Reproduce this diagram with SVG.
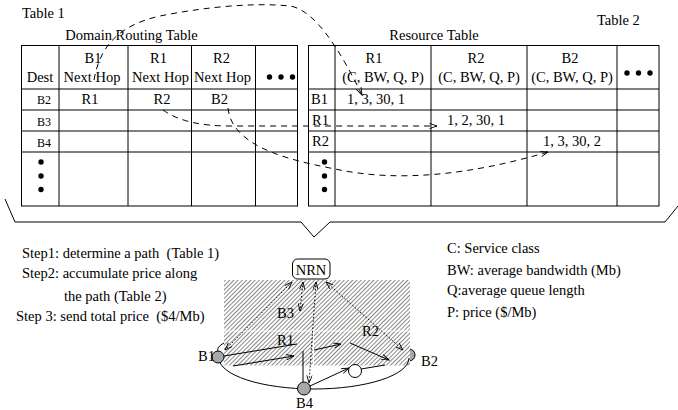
<svg xmlns="http://www.w3.org/2000/svg" width="678" height="410" viewBox="0 0 678 410">
<style>
text{font-family:"Liberation Serif","Times New Roman",serif;font-size:14.5px;fill:#000}
.sm{font-size:12px}
.mid{text-anchor:middle}
.grid{fill:none;stroke:#000;stroke-width:1}
.dash{fill:none;stroke:#000;stroke-width:1;stroke-dasharray:6 5}
.dot{fill:none;stroke:#000;stroke-width:1;stroke-dasharray:1.5 2}
.solid{fill:none;stroke:#000;stroke-width:1}
.node{fill:#a8a8a8;stroke:#000;stroke-width:1}
</style>
<defs>
<marker id="ah" viewBox="0 0 10 8" refX="10" refY="4" markerWidth="9" markerHeight="6" orient="auto-start-reverse" markerUnits="userSpaceOnUse">
<path d="M0,0.5 L10,4 L0,7.5" fill="none" stroke="#000" stroke-width="1.2"/>
</marker>
<pattern id="hatch" patternUnits="userSpaceOnUse" width="3" height="10" patternTransform="rotate(45)">
<line x1="0.5" y1="0" x2="0.5" y2="10" stroke="#7a7a7a" stroke-width="0.9"/>
</pattern>
</defs>
<rect width="678" height="410" fill="#fff"/>

<g id="titles">
<text x="22" y="18">Table 1</text>
<text x="597" y="25">Table 2</text>
<text x="131.5" y="40" class="mid">Domain Routing Table</text>
<text x="434" y="40" class="mid">Resource Table</text>
</g>

<g id="table1">
<rect class="grid" x="21.5" y="45.5" width="276" height="160.5"/>
<path class="grid" d="M59 45.5V206M128 45.5V206M191.5 45.5V206M255.5 45.5V206M21.5 89H297.5M21.5 110H297.5M21.5 131H297.5M21.5 152H297.5"/>
<text x="93" y="63" class="mid">B1</text>
<text x="158.5" y="63" class="mid">R1</text>
<text x="221.5" y="63" class="mid">R2</text>
<text x="40" y="82" class="mid">Dest</text>
<text x="92" y="82" class="mid">Next Hop</text>
<text x="160.5" y="82" class="mid">Next Hop</text>
<text x="222.5" y="82" class="mid">Next Hop</text>
<circle cx="269.5" cy="77" r="2.7"/><circle cx="281" cy="77" r="2.7"/><circle cx="292.5" cy="77" r="2.7"/>
<text x="51" y="104" class="sm" text-anchor="end">B2</text>
<text x="51" y="126" class="sm" text-anchor="end">B3</text>
<text x="51" y="147" class="sm" text-anchor="end">B4</text>
<text x="90" y="104" class="mid">R1</text>
<text x="162" y="104" class="mid">R2</text>
<text x="219.5" y="104" class="mid">B2</text>
<circle cx="41" cy="162" r="2.7"/><circle cx="41" cy="176" r="2.7"/><circle cx="41" cy="189.5" r="2.7"/>
</g>

<g id="table2">
<rect class="grid" x="308.5" y="45.5" width="350.5" height="160.5"/>
<path class="grid" d="M335 45.5V206M431 45.5V206M527 45.5V206M617 45.5V206M308.5 89H659M308.5 110H659M308.5 131H659M308.5 152H659"/>
<text x="374" y="63" class="mid">R1</text>
<text x="476" y="63" class="mid">R2</text>
<text x="570" y="63" class="mid">B2</text>
<text x="383" y="82" class="mid">(C, BW, Q, P)</text>
<text x="479" y="82" class="mid">(C, BW, Q, P)</text>
<text x="572" y="82" class="mid">(C, BW, Q, P)</text>
<circle cx="627" cy="73" r="2.7"/><circle cx="638.5" cy="73" r="2.7"/><circle cx="650" cy="73" r="2.7"/>
<text x="311" y="104">B1</text>
<text x="312" y="125">R1</text>
<text x="312" y="146">R2</text>
<text x="347" y="104">1, 3, 30, 1</text>
<text x="447" y="125">1, 2, 30, 1</text>
<text x="543" y="146">1, 3, 30, 2</text>
<circle cx="324.5" cy="162" r="2.7"/><circle cx="324.5" cy="176" r="2.7"/><circle cx="324.5" cy="189.5" r="2.7"/>
</g>

<g id="table-connectors">
<path class="dash" d="M94 80 C100 45,120 25,160 16 C200 8,250 2,290 6 C315 10,340 50,362 95" marker-end="url(#ah)"/>
<path class="dash" d="M163 110 Q185 126 230 126 L437 126" marker-end="url(#ah)"/>
<path class="dash" d="M228 108 C232 150,300 162,340 170 C400 182,470 175,548 152" marker-end="url(#ah)"/>
</g>

<polyline id="brace" class="solid" points="5,199 15,222 301,222 314,237 330,222 665,222 678,206"/>

<g id="steps">
<text x="22" y="258" xml:space="preserve">Step1: determine a path  (Table 1)</text>
<text x="22" y="278">Step2: accumulate price along</text>
<text x="64" y="301">the path (Table 2)</text>
<text x="16" y="321" xml:space="preserve">Step 3: send total price  ($4/Mb)</text>
</g>

<g id="legend">
<text x="447" y="253">C: Service class</text>
<text x="447" y="275">BW: average bandwidth (Mb)</text>
<text x="447" y="295">Q:average queue length</text>
<text x="447" y="317">P: price ($/Mb)</text>
</g>

<g id="B2">
<circle class="node" cx="409" cy="355" r="6"/>
<text x="421" y="366">B2</text>
</g>

<g id="domain">
<rect x="224" y="280" width="186" height="85.5" fill="#fff"/>
<rect x="224" y="280" width="186" height="50.5" fill="url(#hatch)"/>
<rect x="224" y="331.5" width="89" height="34" fill="url(#hatch)"/>
<rect x="314" y="331.5" width="96" height="34" fill="url(#hatch)"/>
</g>

<g id="connectors">
<path class="solid" d="M219 358 A95 31 0 0 0 409 358"/>
<line class="dot" x1="292" y1="282" x2="225" y2="350" marker-start="url(#ah)" marker-end="url(#ah)"/>
<path class="solid" d="M224 343 Q216 347 218 352"/>
<line class="dot" x1="303" y1="282" x2="300" y2="311" marker-start="url(#ah)" marker-end="url(#ah)"/>
<line class="dot" x1="316" y1="282" x2="309" y2="383" marker-start="url(#ah)" marker-end="url(#ah)"/>
<line class="dot" x1="326" y1="282" x2="403" y2="350" marker-start="url(#ah)" marker-end="url(#ah)"/>
<line class="solid" x1="224" y1="356" x2="297" y2="344"/>
<line class="solid" x1="233" y1="366" x2="294" y2="356" marker-end="url(#ah)"/>
<line class="solid" x1="303" y1="351" x2="303" y2="382"/>
<line class="solid" x1="314" y1="350" x2="341" y2="344" marker-end="url(#ah)"/>
<line class="solid" x1="350" y1="343" x2="389" y2="360" marker-end="url(#ah)"/>
<line class="solid" x1="310" y1="386" x2="349" y2="368" marker-end="url(#ah)"/>
<line class="solid" x1="361" y1="369" x2="385" y2="365"/>
</g>

<g id="NRN">
<rect x="292.5" y="259" width="37.5" height="20" rx="5" fill="#fff" stroke="#000" stroke-width="1"/>
<text x="311" y="275" class="mid">NRN</text>
</g>
<g id="B1">
<circle class="node" cx="218" cy="357" r="6"/>
<text x="198" y="361">B1</text>
</g>
<g id="B3"><text x="277" y="318">B3</text></g>
<g id="R1"><text x="277" y="345">R1</text></g>
<g id="R2"><text x="362" y="336">R2</text></g>
<g id="B4">
<circle class="node" cx="304" cy="388.5" r="6.5"/>
<text x="296" y="408">B4</text>
</g>
<g id="hop">
<circle cx="355" cy="371" r="6.5" fill="#fff" stroke="#000" stroke-width="1"/>
</g>
</svg>
